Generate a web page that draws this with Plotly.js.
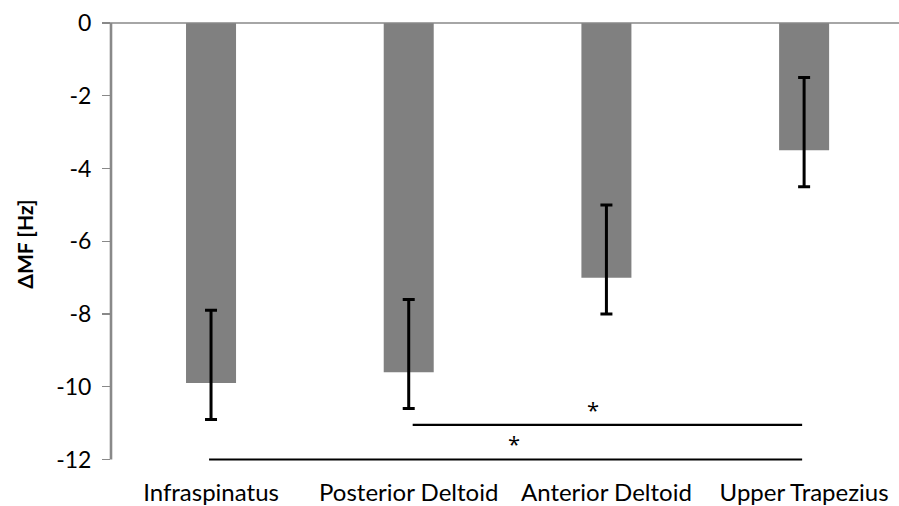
<!DOCTYPE html>
<html>
<head>
<meta charset="utf-8">
<script src="https://cdn.plot.ly/plotly-3.0.1.min.js"></script>
<style>html,body{margin:0;padding:0;background:#fff;}#chart{width:899px;height:506px;}</style>
</head>
<body>
<div id="chart"></div>
<script>
// Data
var muscles = ["Infraspinatus", "Posterior Deltoid", "Anterior Deltoid", "Upper Trapezius"];
var deltaMF = [-9.9, -9.6, -7.0, -3.5];
var errPlus = [2.0, 2.0, 2.0, 2.0];
var errMinus = [1.0, 1.0, 1.0, 1.0];
var yTicks = [0, -2, -4, -6, -8, -10, -12];
// Significance brackets (category index positions, y value)
var sigX0 = [1.02, -0.01];
var sigX1 = [2.99, 2.99];
var sigY = [-11.05, -12];
var starX = [1.93, 1.53];
var starY = [-10.6, -11.55];
var starText = ["*", "*"];

var FONT = "Lato, 'Open Sans', sans-serif";
var yMin = -12, yMax = 0;

var traces = [{
  type: "bar",
  x: [0, 1, 2, 3],
  y: deltaMF,
  width: 0.253,
  marker: {color: "#808080", line: {width: 0}},
  error_y: {
    type: "data",
    symmetric: false,
    array: errPlus,
    arrayminus: errMinus,
    color: "#000000",
    thickness: 3,
    width: 6
  },
  hoverinfo: "none"
}];

for (var i = 0; i < sigY.length; i++) {
  traces.push({type: "scatter", mode: "lines", x: [sigX0[i], sigX1[i]], y: [sigY[i], sigY[i]],
    line: {color: "#000000", width: 2.2}, hoverinfo: "none"});
}

var shapes = [];
// top axis line at y = 0
shapes.push({type: "line", xref: "paper", yref: "paper", x0: -7/788, x1: 1, y0: 1, y1: 1,
  line: {color: "#898989", width: 1.3}});
// vertical value axis line from yMin to yMax
shapes.push({type: "line", xref: "paper", yref: "y", x0: 0, x1: 0, y0: yMin, y1: yMax,
  line: {color: "#898989", width: 2.6}});

var annotations = [];
for (var j = 0; j < starX.length; j++) {
  annotations.push({x: starX[j], y: starY[j], xref: "x", yref: "y", text: starText[j], showarrow: false,
    font: {family: "'Open Sans', sans-serif", size: 22, color: "#000"}, xanchor: "center", yanchor: "middle"});
}

var layout = {
  width: 899, height: 506,
  margin: {l: 111, r: 0, t: 23, b: 41, pad: 0},
  paper_bgcolor: "#ffffff", plot_bgcolor: "#ffffff",
  showlegend: false,
  font: {family: FONT, size: 24, color: "#000"},
  xaxis: {
    range: [-0.506, 3.48],
    tickmode: "array",
    tickvals: [0, 1, 2, 3],
    ticktext: muscles,
    showgrid: false, zeroline: false, showline: false,
    ticks: "", ticklabelstandoff: 11,
    tickfont: {family: FONT, size: 24, color: "#000"},
    fixedrange: true
  },
  yaxis: {
    range: [-12.151, 0],
    tickmode: "array",
    tickvals: yTicks,
    ticktext: yTicks.map(String),
    showgrid: false, zeroline: false,
    showline: false,
    ticks: "outside", ticklen: 8, tickcolor: "#898989", tickwidth: 1.3,
    ticklabelstandoff: 6,
    tickfont: {family: FONT, size: 23, color: "#000"},
    title: {text: "<b>ΔMF [Hz]</b>", font: {family: FONT, size: 21, color: "#000"}, standoff: 16},
    fixedrange: true
  },
  shapes: shapes,
  annotations: annotations
};

Plotly.newPlot("chart", traces, layout, {displayModeBar: false, staticPlot: true});
</script>
</body>
</html>
